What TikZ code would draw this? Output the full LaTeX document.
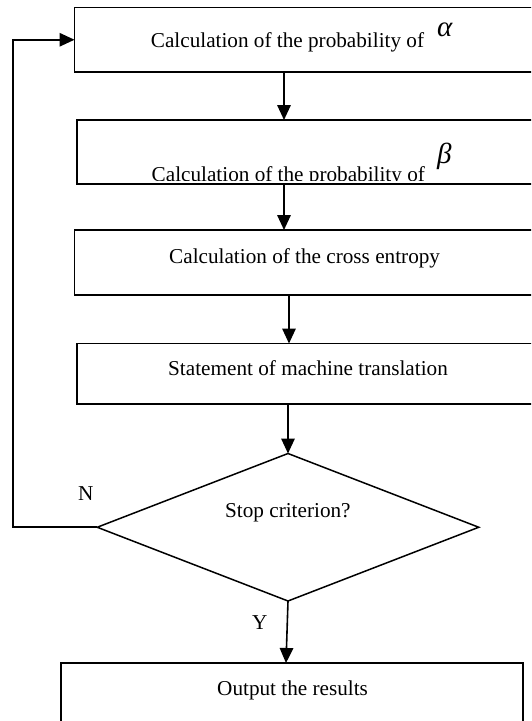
\documentclass[tikz,border=0pt]{standalone}
\usepackage{fontspec}
\setmainfont{Liberation Serif}
\usetikzlibrary{arrows.meta,shapes.geometric}
\begin{document}
\begin{tikzpicture}[x=1pt,y=-1pt,
  box/.style={draw,line width=1.8pt,rectangle,inner sep=0pt,outer sep=0pt,anchor=north west},
  txt/.style={inner sep=0pt,anchor=base west,font=\fontsize{21.2}{25}\selectfont},
  greek/.style={inner sep=0pt,anchor=base west,font=\fontsize{29}{30}\selectfont\itshape},
  arr/.style={line width=1.6pt,-{Triangle[length=15pt,width=13.5pt]}}]
\clip (0,0) rectangle (531,721);
% boxes
\node[box,minimum width=458.5pt,minimum height=64.5pt] (b1) at (74.5,7.5) {};
\node[box,minimum width=456pt,minimum height=64pt] (b2) at (77,120) {};
\node[box,minimum width=458.5pt,minimum height=65pt] (b3) at (74.5,230) {};
\node[box,minimum width=456pt,minimum height=60.5pt] (b4) at (77,343.5) {};
\node[draw,diamond,line width=1.5pt,inner sep=0pt,outer sep=0pt,
      minimum width=381.5pt,minimum height=147.5pt] (d) at (288,527.25) {};
\node[box,minimum width=462pt,minimum height=80pt] (b5) at (61,663) {};
% texts
\node[txt] (t1) at (150.7,47) {Calculation of the probability of};
\node[greek] (g1) at (437,36) {α};
\begin{scope}
\clip (77,120) rectangle (533,180);
\node[txt] (t2) at (151.5,181) {Calculation of the probability of};
\end{scope}
\node[greek] (g2) at (437,163) {β};
\node[txt] (t3) at (169,263) {Calculation of the cross entropy};
\node[txt] (t4) at (168,375.7) {Statement of machine translation};
\node[txt] (t5) at (225,517) {Stop criterion?};
\node[txt] (t6) at (217,695) {Output the results};
\node[txt] (ln) at (78,500) {N};
\node[txt] (ly) at (252,629) {Y};
% connectors
\coordinate (x1) at (284,0);
\coordinate (x3) at (289,0);
\coordinate (x5) at (286,0);
\coordinate (fb) at (13,527.25);
\draw[arr] (b1.south -| x1) -- (b2.north -| x1);
\draw[arr] (b2.south -| x1) -- (b3.north -| x1);
\draw[arr] (b3.south -| x3) -- (b4.north -| x3);
\draw[arr] (b4.south -| d.north) -- (d.north);
\draw[arr] (d.south) -- (b5.north -| x5);
\draw[arr] (d.west) -- (fb) |- (b1.west);
\end{tikzpicture}
\end{document}
